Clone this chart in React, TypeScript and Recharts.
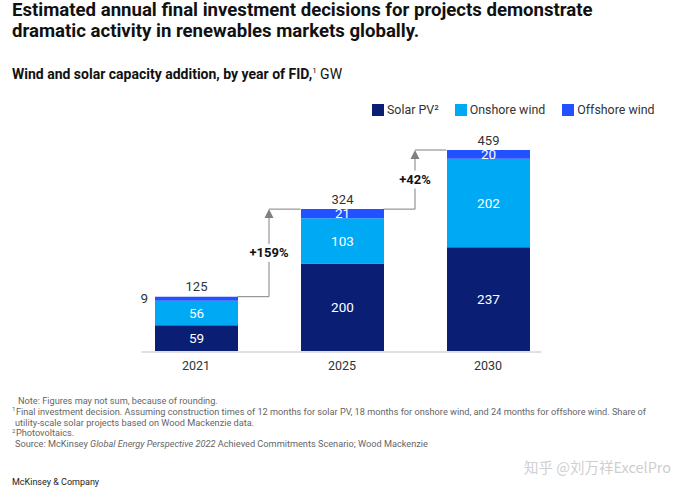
import React from 'react';
import * as Recharts from 'recharts';
import { BarChart, Bar, XAxis, YAxis, LabelList, Legend } from 'recharts';

const categories = ['2021', '2025', '2030'];
const solarPV = [59, 200, 237];
const onshoreWind = [56, 103, 202];
const offshoreWind = [9, 21, 20];
const totals = [125, 324, 459];
const growthLabels = ['+159%', '+42%'];
const seriesNames = ['Solar PV²', 'Onshore wind', 'Offshore wind'];

const COLORS = { solar: '#0a1f73', onshore: '#00a9f4', offshore: '#2251ff' };
const FONT = 'Roboto, "Liberation Sans", Arial, sans-serif';
const BAR_SIZE = 83;

const data = categories.map((c, i) => ({
  year: c,
  solar: solarPV[i],
  onshore: onshoreWind[i],
  offshore: offshoreWind[i],
  total: totals[i],
  stack: solarPV[i] + onshoreWind[i] + offshoreWind[i],
}));
const yMax = Math.max(...data.map((d) => d.stack));

const usePlotAreaHook: any = (Recharts as any).usePlotArea;

const Annotations = () => {
  const plot = usePlotAreaHook ? usePlotAreaHook() : null;
  if (!plot) return null;
  const n = data.length;
  const band = plot.width / n;
  const cx = (i: number) => plot.x + band * (i + 0.5);
  const yv = (v: number) => plot.y + plot.height * (1 - v / yMax);
  const half = BAR_SIZE / 2;
  const els: React.ReactNode[] = [];
  els.push(
    <line key="axis" x1={cx(0) - half - 13} x2={cx(n - 1) + half + 12} y1={yv(0) + 1} y2={yv(0) + 1} stroke="#d6d6d6" strokeWidth={1.5} />
  );
  for (let i = 0; i < n - 1; i++) {
    const ax = plot.x + band * (i + 1);
    const y0 = yv(data[i].stack);
    const y1 = yv(data[i + 1].stack);
    const midY = (y0 + y1) / 2;
    els.push(
      <g key={'arr' + i}>
        <polyline points={`${cx(i) + half},${y0} ${ax},${y0} ${ax},${y1 + 8}`} fill="none" stroke="#808080" strokeWidth={1} />
        <polyline points={`${ax},${y1} ${cx(i + 1) - half},${y1}`} fill="none" stroke="#808080" strokeWidth={1} />
        <polygon points={`${ax},${y1} ${ax - 4.5},${y1 + 9} ${ax + 4.5},${y1 + 9}`} fill="#808080" />
        <rect x={ax - 24} y={midY - 9} width={48} height={18} fill="#fff" />
        <text x={ax} y={midY} dy="0.35em" textAnchor="middle" fontFamily={FONT} fontSize={13} fontWeight={700} fill="#111">
          {growthLabels[i]}
        </text>
      </g>
    );
  }
  return <g>{els}</g>;
};

const segLabel = (props: any) => {
  const { x, y, width, height, value } = props;
  if (value < 15) {
    return (
      <text x={x - 7} y={y + height / 2} dy="0.35em" textAnchor="end" fontFamily={FONT} fontSize={13.5} fill="#333">
        {value}
      </text>
    );
  }
  return (
    <text x={x + width / 2} y={y + height / 2} dy="0.35em" textAnchor="middle" fontFamily={FONT} fontSize={13.5} fill="#fff">
      {value}
    </text>
  );
};

const totalLabel = (props: any) => {
  const { x, y, width, index } = props;
  return (
    <text x={x + width / 2} y={y - 10} dy="0.35em" textAnchor="middle" fontFamily={FONT} fontSize={13} fill="#333">
      {totals[index]}
    </text>
  );
};

const renderLegend = (props: any) => {
  const items = [...(props.payload || [])].sort(
    (a: any, b: any) => seriesNames.indexOf(a.value) - seriesNames.indexOf(b.value)
  );
  return (
    <div style={{ display: 'flex', fontFamily: FONT, fontSize: 12.4, color: '#333' }}>
      {items.map((p: any, i: number) => (
        <div key={i} style={{ display: 'flex', alignItems: 'center', marginRight: i === 0 ? 16 : 17 }}>
          <span style={{ display: 'inline-block', width: 12, height: 12, background: p.color, marginRight: 3 }} />
          <span>{p.value}</span>
        </div>
      ))}
    </div>
  );
};

const supStyle: React.CSSProperties = { fontSize: 6, lineHeight: 0, verticalAlign: 'baseline', position: 'relative', top: -3.5, marginRight: 0.5 };

export default function App() {
  return (
    <div style={{ position: 'absolute', left: 0, top: 0, width: 692, height: 499, background: '#fff', overflow: 'hidden', fontFamily: FONT }}>
      <div style={{ position: 'absolute', left: 12, top: 0, fontSize: 18.6, fontWeight: 700, lineHeight: '21px', color: '#111', width: 680 }}>
        Estimated annual final investment decisions for projects demonstrate
        <br />
        dramatic activity in renewables markets globally.
      </div>
      <div style={{ position: 'absolute', left: 12, top: 66, fontSize: 14, color: '#111', whiteSpace: 'nowrap' }}>
        <span style={{ fontWeight: 700 }}>Wind and solar capacity addition, by year of FID,</span>
        <sup style={{ fontSize: 8 }}>1</sup>
        <span> GW</span>
      </div>
      <div style={{ position: 'absolute', left: 0, top: 0 }}>
        <BarChart width={692} height={499} data={data} margin={{ top: 150, right: 131, bottom: 118, left: 123 }}>
          <XAxis dataKey="year" axisLine={false} tickLine={false} tickSize={0} tickMargin={10} height={30} interval={0}
            tick={{ fontSize: 12.5, fill: '#333', fontFamily: FONT }} />
          <YAxis hide domain={[0, yMax]} allowDataOverflow />
          <Legend content={renderLegend} verticalAlign="middle" align="center"
            wrapperStyle={{ position: 'absolute', top: 102, left: 372, width: 320 }} />
          <Bar dataKey="solar" name={seriesNames[0]} stackId="a" fill={COLORS.solar} barSize={BAR_SIZE} isAnimationActive={false}>
            <LabelList dataKey="solar" content={segLabel} />
          </Bar>
          <Bar dataKey="onshore" name={seriesNames[1]} stackId="a" fill={COLORS.onshore} barSize={BAR_SIZE} isAnimationActive={false}>
            <LabelList dataKey="onshore" content={segLabel} />
          </Bar>
          <Bar dataKey="offshore" name={seriesNames[2]} stackId="a" fill={COLORS.offshore} barSize={BAR_SIZE} isAnimationActive={false}>
            <LabelList dataKey="offshore" content={segLabel} />
            <LabelList dataKey="total" content={totalLabel} />
          </Bar>
          <Annotations />
        </BarChart>
      </div>
      <div style={{ position: 'absolute', left: 12, top: 396, fontSize: 9.2, lineHeight: '10.8px', color: '#666', whiteSpace: 'nowrap' }}>
        <div style={{ paddingLeft: 6 }}>Note: Figures may not sum, because of rounding.</div>
        <div><span style={supStyle}>1</span>Final investment decision. Assuming construction times of 12 months for solar PV, 18 months for onshore wind, and 24 months for offshore wind. Share of</div>
        <div style={{ paddingLeft: 3 }}>utility-scale solar projects based on Wood Mackenzie data.</div>
        <div><span style={supStyle}>2</span>Photovoltaics.</div>
        <div style={{ paddingLeft: 3 }}>Source: McKinsey <i>Global Energy Perspective 2022</i> Achieved Commitments Scenario; Wood Mackenzie</div>
      </div>
      <div style={{ position: 'absolute', left: 12, top: 477, fontSize: 9, color: '#222', whiteSpace: 'nowrap' }}>McKinsey &amp; Company</div>
      <div style={{ position: 'absolute', left: 524, top: 456, fontSize: 14.5, color: '#cfcfcf', whiteSpace: 'nowrap', fontFamily: '"Noto Sans CJK SC", sans-serif' }}>知乎 @刘万祥ExcelPro</div>
    </div>
  );
}
